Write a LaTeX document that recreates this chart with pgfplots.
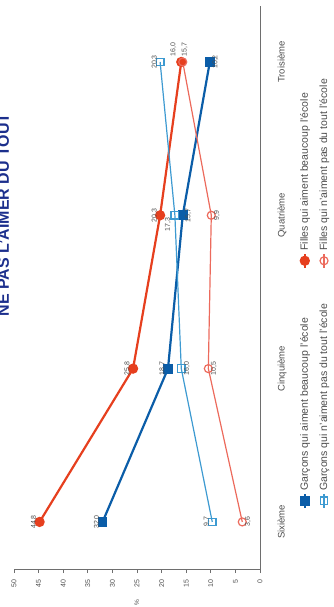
\documentclass[border=0pt]{standalone}
\usepackage{fontspec}
\setmainfont{Liberation Sans}
\usepackage{pgfplots}
\pgfplotsset{compat=1.18}

\definecolor{gdark}{HTML}{0B5DA8}
\definecolor{glight}{HTML}{3D9AD1}
\definecolor{fdark}{HTML}{E63F1E}
\definecolor{flight}{HTML}{EC6A5C}
\definecolor{titlec}{HTML}{1C2F8C}
\definecolor{txt}{HTML}{4D4D4D}
\definecolor{axc}{HTML}{6E6E6E}

\pgfplotsset{
  lbl/.style={
    forget plot, draw=none, mark=none,
    point meta=explicit symbolic,
    nodes near coords,
    every node near coord/.append style={font=\fontsize{7}{8}\selectfont, text=txt, #1, inner sep=2.5pt},
  }
}

\begin{document}
\begin{tikzpicture}
\begin{axis}[
  at={(14pt,-569pt)}, anchor=south west,
  width=246pt, height=563pt, scale only axis,
  x dir=reverse, xmin=0, xmax=50, xtick={0,5,...,50},
  ymin=-0.307, ymax=3.365, ytick={0,1,2,3},
  yticklabels={Sixième,Cinquième,Quatrième,Troisième},
  axis x line*=bottom, axis y line*=right,
  axis line style={axc, line width=0.9pt},
  x axis line style={-}, y axis line style={-},
  tick align=outside, major tick length=4pt,
  xtick style={axc, line width=0.8pt},
  ytick style={draw=none},
  /pgf/number format/assume math mode=true,
  xticklabel style={font=\fontsize{7}{8}\selectfont, text=txt, yshift=-3pt, rotate=90, anchor=east},
  yticklabel style={font=\fontsize{9.5}{11}\selectfont, text=txt, xshift=10pt, rotate=90, anchor=north},
  xlabel={\%},
  xlabel style={font=\fontsize{6.5}{7}\selectfont, text=txt, at={(axis description cs:0.5,0)}, yshift=-34pt, rotate=90, anchor=center},
  clip=false,
  legend columns=2,
  legend cell align=left,
  legend image code/.code={\draw[mark repeat=2,mark phase=2] plot coordinates {(0pt,0pt)(7pt,0pt)(14pt,0pt)};},
  legend style={transform canvas={rotate around={90:(axis description cs:1.1463,0.1012)}}, at={(axis description cs:1.1463,0.1012)}, anchor=north west, draw=none, fill=none,
    font=\fontsize{10.5}{12}\selectfont, text=txt, row sep=6pt,
    /tikz/every even column/.append style={column sep=33pt}},
]
\addplot[gdark, line width=2.2pt, mark=square*, mark size=3.8pt] coordinates {(32.0,0) (18.7,1) (15.7,2) (10.2,3)};
\addlegendentry{Garçons qui aiment beaucoup l'école}
\addplot[fdark, line width=2.2pt, mark=*, mark size=4pt] coordinates {(44.8,0) (25.8,1) (20.3,2) (16.0,3)};
\addlegendentry{Filles qui aiment beaucoup l'école}
\addplot[glight, line width=1.2pt, mark=square, mark size=3.8pt, mark options={fill=white}] coordinates {(9.7,0) (16.0,1) (17.3,2) (20.3,3)};
\addlegendentry{Garçons qui n'aiment pas du tout l'école}
\addplot[flight, line width=1.2pt, mark=o, mark size=4pt, mark options={fill=white}] coordinates {(3.6,0) (10.5,1) (9.9,2) (15.7,3)};
\addlegendentry{Filles qui n'aiment pas du tout l'école}
% value labels
\addplot[lbl={rotate=90, anchor=south}] coordinates {
  (32.0,0) [32,0] (18.7,1) [18,7] (44.8,0) [44,8] (25.8,1) [25,8] (20.3,2) [20,3] (9.7,0) [9,7] (20.3,3) [20,3]};
\addplot[lbl={rotate=90, anchor=north}] coordinates {
  (15.7,2) [15,7] (10.2,3) [10,2] (16.0,1) [16,0] (3.6,0) [3,6] (10.5,1) [10,5] (9.9,2) [9,9]};
\addplot[lbl={xshift=-7pt, rotate=90, anchor=east}] coordinates {(17.3,2) [17,3]};
\addplot[lbl={xshift=-8pt, yshift=3pt, rotate=90, anchor=west}] coordinates {(16.0,3) [16,0]};
\addplot[lbl={xshift=2pt, yshift=3pt, rotate=90, anchor=west}] coordinates {(15.7,3) [15,7]};
\end{axis}
\node[rotate=90, anchor=base, font=\fontsize{16}{18}\selectfont\bfseries, text=titlec] at (9pt,-215pt) {NE PAS L'AIMER DU TOUT};
\pgfresetboundingbox
\useasboundingbox (0,0) rectangle (334pt,-607pt);
\end{tikzpicture}
\end{document}
